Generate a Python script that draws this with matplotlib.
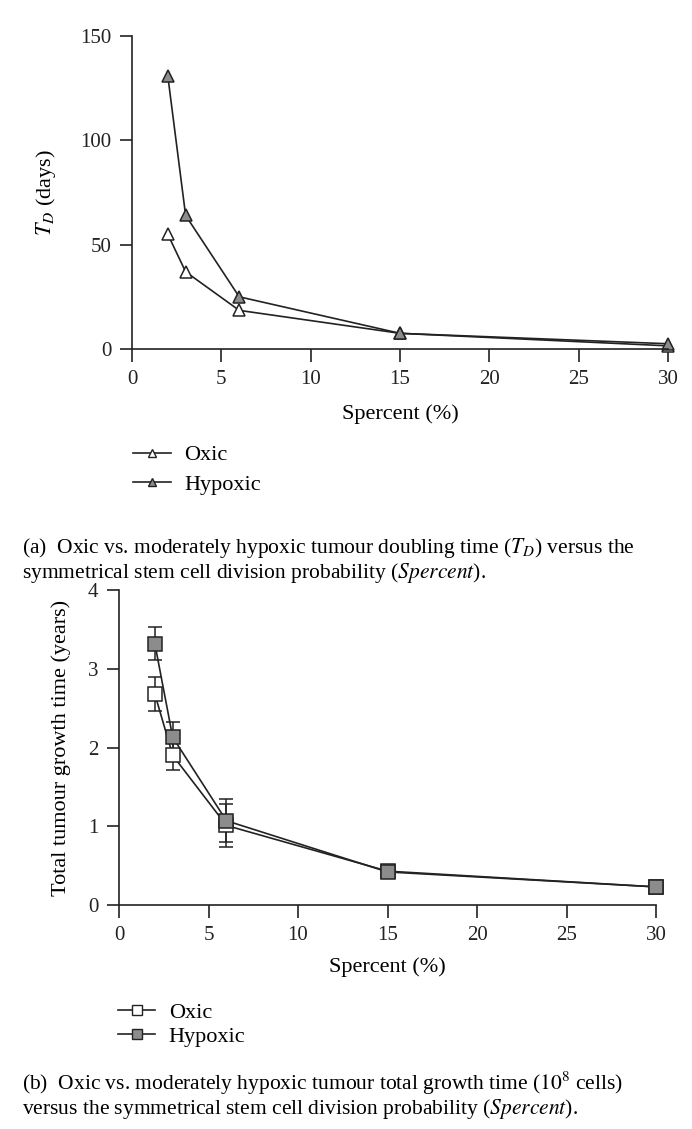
import numpy as np
import matplotlib
matplotlib.use("Agg")
import matplotlib.pyplot as plt

plt.rcParams['font.family'] = ['Liberation Serif', 'DejaVu Serif']
plt.rcParams['mathtext.fontset'] = 'stix'

# data
spercent = [2, 3, 6, 15, 30]

td_oxic = [55, 37, 18.5, 7.5, 1.5]
td_hypoxic = [131, 64, 25, 7.5, 2.5]

growth_oxic = [2.68, 1.90, 1.01, 0.43, 0.23]
growth_oxic_err = [0.22, 0.19, 0.27, 0.02, 0.02]
growth_hypoxic = [3.32, 2.13, 1.07, 0.42, 0.23]
growth_hypoxic_err = [0.21, 0.20, 0.27, 0.02, 0.02]

series_names = ['Oxic', 'Hypoxic']

fs_tick = 15
fs_lab = 16
fs_cap = 15.5
ink = '#222222'
grey = '#8c8c8c'

fig = plt.figure(figsize=(6.92, 11.29), dpi=100)

def style_axes(ax):
    for s in ['top', 'right']:
        ax.spines[s].set_visible(False)
    for s in ['left', 'bottom']:
        ax.spines[s].set_linewidth(1.2)
        ax.spines[s].set_color(ink)
    ax.tick_params(direction='out', length=9, width=1.2, pad=6,
                   labelsize=fs_tick, colors=ink)

# (a) doubling time
ax1 = fig.add_axes([0.1908, 0.6909, 0.7745, 0.2772])
ax1.plot(spercent, td_oxic, '-^', color=ink, lw=1.2, ms=9,
         mfc='white', mec=ink, mew=1.1, clip_on=False)
ax1.plot(spercent, td_hypoxic, '-^', color=ink, lw=1.2, ms=9,
         mfc=grey, mec=ink, mew=1.1, clip_on=False)
ax1.set_xlim(0, 30)
ax1.set_ylim(0, 150)
ax1.set_xticks(np.arange(0, 31, 5))
ax1.set_yticks([0, 50, 100, 150])
ax1.set_xlabel('Spercent (%)', fontsize=fs_lab, labelpad=11)
ax1.set_ylabel('$T_D$ (days)', fontsize=fs_lab, labelpad=16)
style_axes(ax1)
ta = plt.Line2D([], [], color=ink, lw=1.2, marker='^', ms=6, mfc='white', mec=ink)
tb = plt.Line2D([], [], color=ink, lw=1.2, marker='^', ms=6, mfc=grey, mec=ink)
fig.legend(handles=[ta, tb], labels=series_names, loc='upper left',
           bbox_to_anchor=(0.192, 0.606), frameon=False, fontsize=fs_lab,
           handlelength=1.7, handletextpad=0.6, labelspacing=0.4, borderpad=0,
           borderaxespad=0)

fig.text(0.032, 0.5146, '(a)  Oxic vs. moderately hypoxic tumour doubling time ($T_D$) versus the',
         fontsize=fs_cap, ha='left', va='center')
fig.text(0.032, 0.4925, 'symmetrical stem cell division probability ($\\mathit{Spercent}$).',
         fontsize=fs_cap, ha='left', va='center')

# (b) total growth time
ax2 = fig.add_axes([0.172, 0.1984, 0.776, 0.279])
eb_kw = dict(color=ink, lw=1.2, ms=10, mec=ink, mew=1.1,
             capsize=5, elinewidth=1.1, capthick=1.1, clip_on=False)
ax2.errorbar(spercent, growth_oxic, yerr=growth_oxic_err, fmt='-s', mfc='white', **eb_kw)
ax2.errorbar(spercent, growth_hypoxic, yerr=growth_hypoxic_err, fmt='-s', mfc=grey, **eb_kw)
ax2.set_xlim(0, 30)
ax2.set_ylim(0, 4)
ax2.set_xticks(np.arange(0, 31, 5))
ax2.set_yticks([0, 1, 2, 3, 4])
ax2.set_xlabel('Spercent (%)', fontsize=fs_lab, labelpad=9)
ax2.set_ylabel('Total tumour growth time (years)', fontsize=fs_lab, labelpad=12)
style_axes(ax2)
sa = plt.Line2D([], [], color=ink, lw=1.2, marker='s', ms=7, mfc='white', mec=ink)
sb = plt.Line2D([], [], color=ink, lw=1.2, marker='s', ms=7, mfc=grey, mec=ink)
fig.legend(handles=[sa, sb], labels=series_names, loc='upper left',
           bbox_to_anchor=(0.17, 0.112), frameon=False, fontsize=fs_lab,
           handlelength=1.7, handletextpad=0.6, labelspacing=0.15, borderpad=0,
           borderaxespad=0)

fig.text(0.032, 0.0405, '(b)  Oxic vs. moderately hypoxic tumour total growth time ($10^8$ cells)',
         fontsize=fs_cap, ha='left', va='center')
fig.text(0.032, 0.0175, 'versus the symmetrical stem cell division probability ($\\mathit{Spercent}$).',
         fontsize=fs_cap, ha='left', va='center')

fig.savefig('out.png', dpi=100)
